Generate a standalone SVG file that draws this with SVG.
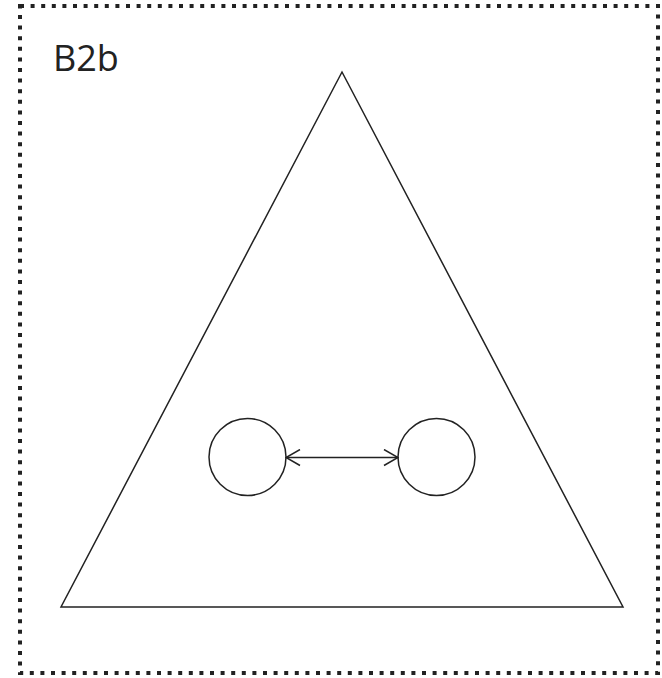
<svg xmlns="http://www.w3.org/2000/svg" width="662" height="678" viewBox="0 0 662 678">
<style>
.frame{fill:none;stroke:#222;stroke-width:4;stroke-dasharray:4 6.6}
.shape{fill:none;stroke:#222;stroke-width:1.5}
.conn{fill:none;stroke:#222;stroke-width:1.5}
.label{font-family:"Open Sans","Noto Sans",sans-serif;font-size:36px;fill:#222}
</style>
<defs>
<marker id="arr" viewBox="0 0 16 18" refX="15" refY="9" markerWidth="16" markerHeight="18" markerUnits="userSpaceOnUse" orient="auto-start-reverse">
<path d="M1,1 L15,9 L1,17" fill="none" stroke="#222" stroke-width="1.5"/>
</marker>
</defs>
<rect class="frame" x="20" y="6" width="638" height="667"/>
<text class="label" x="53" y="71">B2b</text>
<g id="triangle"><polygon class="shape" points="342,72 623,607 61,607"/></g>
<g id="circleA"><circle class="shape" cx="247.5" cy="457" r="38.5"/></g>
<g id="circleB"><circle class="shape" cx="436.5" cy="457" r="38.5"/></g>
<g id="connectors">
<line class="conn" x1="286" y1="457.5" x2="398" y2="457.5" marker-start="url(#arr)" marker-end="url(#arr)"/>
</g>
</svg>
